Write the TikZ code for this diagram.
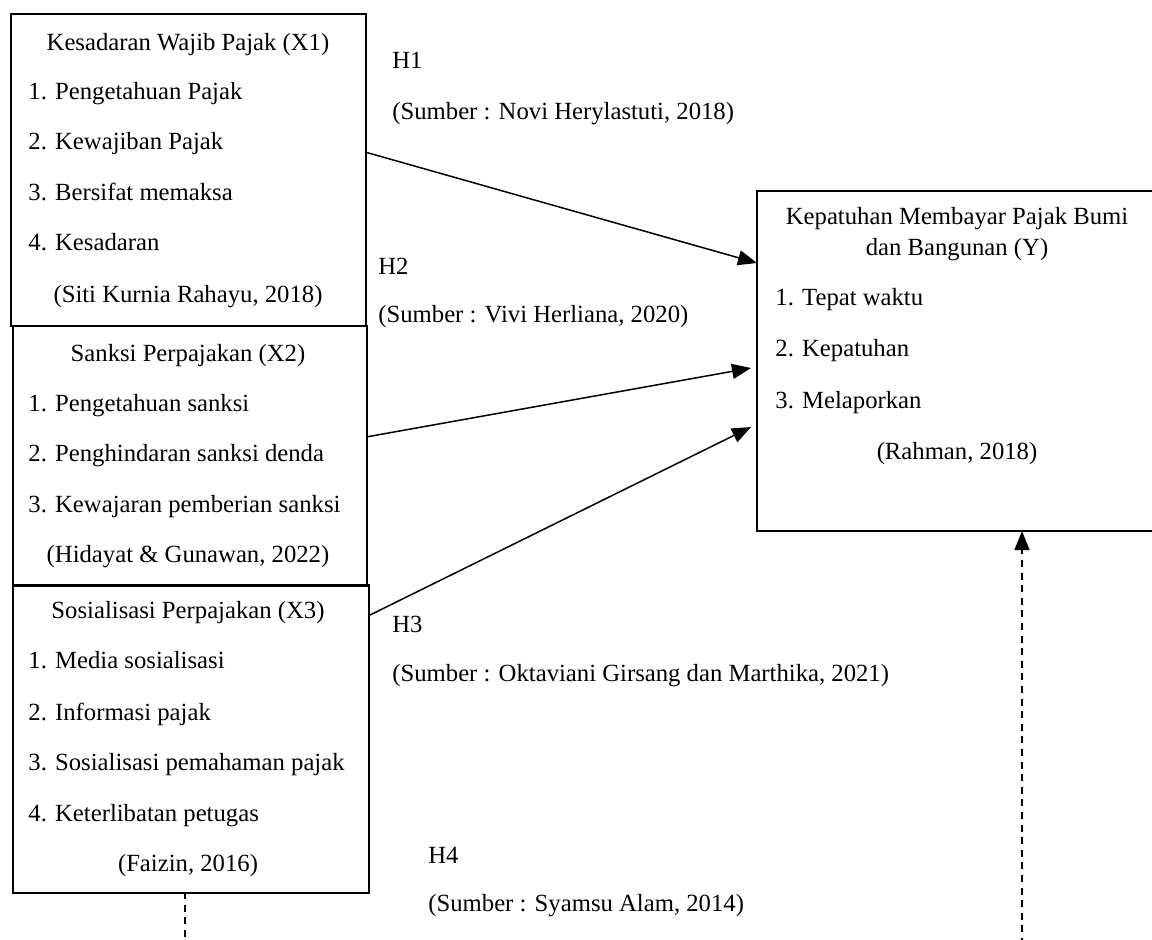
\documentclass[tikz,border=0pt]{standalone}
\usepackage{fontspec}
\setmainfont{Liberation Serif}
\usetikzlibrary{arrows.meta}
\tikzset{
  box/.style={draw, line width=0.8pt, anchor=north west, inner sep=0pt},
  txt/.style={anchor=base west, inner sep=0pt, font=\fontsize{12.35pt}{14pt}\selectfont},
  ctxt/.style={anchor=base, inner sep=0pt, font=\fontsize{12.35pt}{14pt}\selectfont},
  conn/.style={line width=0.75pt, -{Triangle[length=9.5pt,width=7.5pt]}},
  dconn/.style={line width=0.75pt, dash pattern=on 3.5pt off 2.8pt},
}
\begin{document}
\begin{tikzpicture}[x=0.5pt,y=-0.5pt]
\useasboundingbox (0,0) rectangle (1152,939);
% boxes
\node[box, minimum width=177.5pt, minimum height=156pt] (x1) at (10,13) {};
\node[box, minimum width=177pt, minimum height=130pt] (x2) at (12,325) {};
\node[box, minimum width=178pt, minimum height=154pt] (x3) at (12,584) {};
\node[box, minimum width=205pt, minimum height=170pt] (y) at (756,190) {};
% X1 text
\node[ctxt] (x1t) at (188,50) {Kesadaran Wajib Pajak (X1)};
\node[txt] (x1a) at (28,99) {1. Pengetahuan Pajak};
\node[txt] (x1b) at (28,149) {2. Kewajiban Pajak};
\node[txt] (x1c) at (28,200) {3. Bersifat memaksa};
\node[txt] (x1d) at (28,250) {4. Kesadaran};
\node[ctxt] (x1s) at (188,302) {(Siti Kurnia Rahayu, 2018)};
% X2 text
\node[ctxt] (x2t) at (188,361) {Sanksi Perpajakan (X2)};
\node[txt] (x2a) at (28,411) {1. Pengetahuan sanksi};
\node[txt] (x2b) at (28,461) {2. Penghindaran sanksi denda};
\node[txt] (x2c) at (28,512) {3. Kewajaran pemberian sanksi};
\node[ctxt] (x2s) at (188,562) {(Hidayat \& Gunawan, 2022)};
% X3 text
\node[ctxt] (x3t) at (188,618) {Sosialisasi Perpajakan (X3)};
\node[txt] (x3a) at (28,668) {1. Media sosialisasi};
\node[txt] (x3b) at (28,720) {2. Informasi pajak};
\node[txt] (x3c) at (28,770) {3. Sosialisasi pemahaman pajak};
\node[txt] (x3d) at (28,821) {4. Keterlibatan petugas};
\node[ctxt] (x3s) at (188,871) {(Faizin, 2016)};
% Y text
\node[ctxt] (yt1) at (957,224) {Kepatuhan Membayar Pajak Bumi};
\node[ctxt] (yt2) at (957,255) {dan Bangunan (Y)};
\node[txt] (ya) at (775,305) {1. Tepat waktu};
\node[txt] (yb) at (775,356) {2. Kepatuhan};
\node[txt] (yc) at (775,408) {3. Melaporkan};
\node[ctxt] (ys) at (957,459) {(Rahman, 2018)};
% hypothesis labels
\node[txt] (h1) at (392,68) {H1};
\node[txt] (h1s) at (392,119) {(Sumber : Novi Herylastuti, 2018)};
\node[txt] (h2) at (378,274) {H2};
\node[txt] (h2s) at (378,322) {(Sumber : Vivi Herliana, 2020)};
\node[txt] (h3) at (392,632) {H3};
\node[txt] (h3s) at (392,681) {(Sumber : Oktaviani Girsang dan Marthika, 2021)};
\node[txt] (h4) at (428,863) {H4};
\node[txt] (h4s) at (428,911) {(Sumber : Syamsu Alam, 2014)};
% connector endpoints
\coordinate (s1) at (365,152);
\coordinate (e1) at (757,263);
\coordinate (s2) at (366,437);
\coordinate (e2) at (751,368);
\coordinate (s3) at (370,615);
\coordinate (e3) at (751,427);
\coordinate (d1s) at (185,892);
\coordinate (d1e) at (185,945);
\coordinate (d2s) at (1022,945);
\coordinate (d2e) at (1022,531);
\draw[conn] (s1) -- (e1);
\draw[conn] (s2) -- (e2);
\draw[conn] (s3) -- (e3);
\draw[dconn] (d1s) -- (d1e);
\draw[dconn, -{Triangle[length=9.5pt,width=7.5pt]}] (d2s) -- (d2e);
\end{tikzpicture}
\end{document}
